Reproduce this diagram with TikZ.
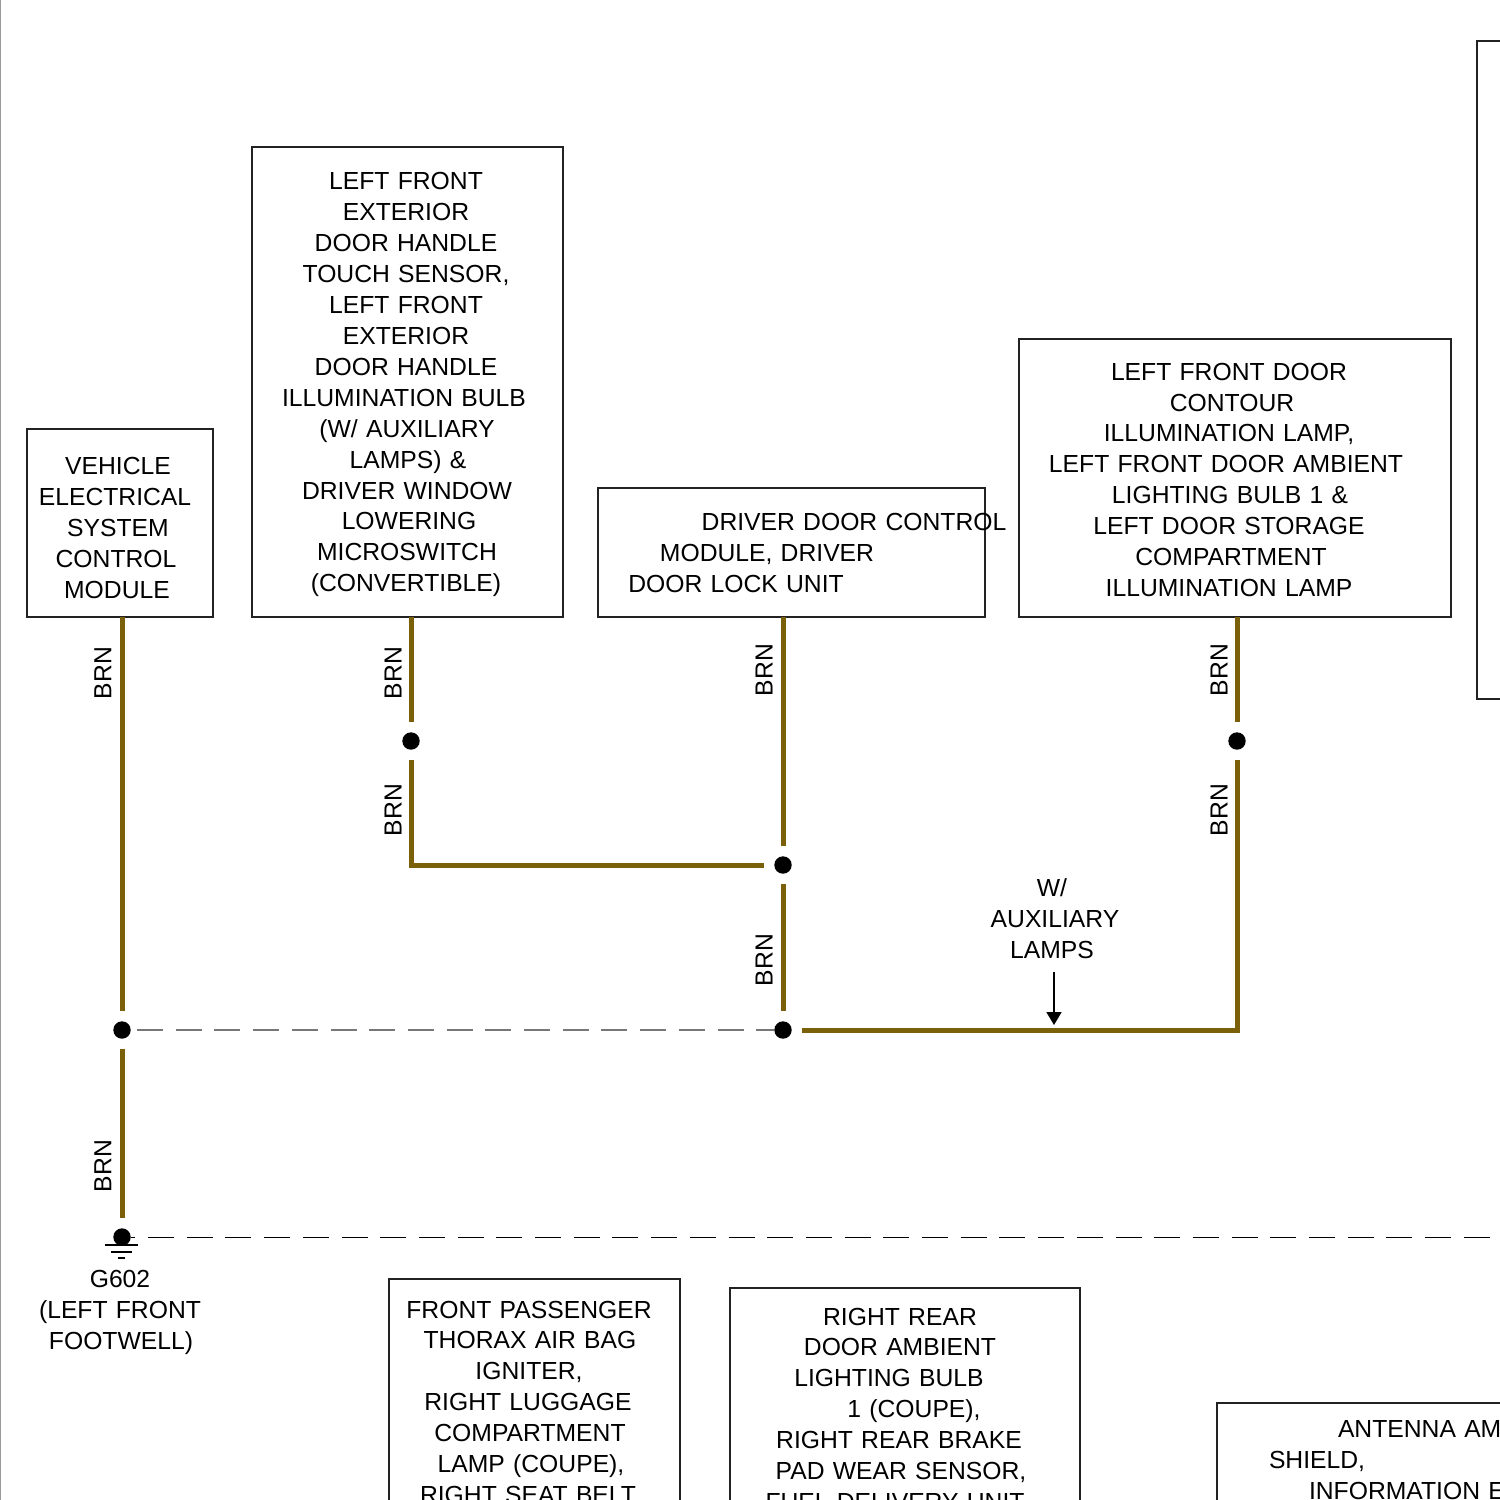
\documentclass[tikz,border=0pt]{standalone}
\usepackage{fontspec}
\setmainfont{Liberation Sans}
\usetikzlibrary{arrows.meta}
\definecolor{wirebrn}{HTML}{7A6008}
\definecolor{boxline}{HTML}{222222}
\definecolor{dashgray}{HTML}{777777}
% one text line: shift in reference pixels, then the text
\newcommand{\tl}[2]{\makebox[0pt]{\hspace*{#1pt}\smash{#2}}\rule{0pt}{8.8pt}}
\tikzset{
  x=0.5pt,y=-0.5pt,
  boxnode/.style={draw=boxline,line width=.95pt,fill=none,inner sep=0pt,outer sep=0pt,anchor=north west},
  boxtext/.style={inner sep=0pt,outer sep=0pt,align=center,text width=10pt,
    font=\fontsize{12.35}{15.46}\selectfont},
  wirelabel/.style={rotate=90,inner sep=0pt,font=\fontsize{12.35}{15.46}\selectfont},
  wire/.style={draw=wirebrn,line width=2.5pt,line join=miter},
  dotnode/.style={circle,fill=black,inner sep=0pt,outer sep=5pt,minimum size=8.7pt},
  graydash/.style={draw=dashgray,line width=.75pt,dash pattern=on 13pt off 6.35pt},
  blackdash/.style={draw=black,line width=.45pt,dash pattern=on 13pt off 6.35pt},
  groundbar/.style={draw=black,line width=.8pt},
}
\begin{document}
\begin{tikzpicture}
\useasboundingbox (0,0) rectangle (1500,1500);
\clip (0,0) rectangle (1500,1500);
\fill[white] (0,0) rectangle (1500,1500);
\draw[draw=gray!80,line width=.6pt] (0.5,0) -- (0.5,1500);

% boxes
\node[boxnode,minimum width=93pt,minimum height=94pt] (vesc) at (27,429) {};
\node[boxnode,minimum width=155.5pt,minimum height=235pt] (lfh) at (252,147) {};
\node[boxnode,minimum width=193.5pt,minimum height=64.5pt] (ddcm) at (598,488) {};
\node[boxnode,minimum width=216pt,minimum height=139pt] (lfd) at (1019,339) {};
\node[boxnode,minimum width=100pt,minimum height=329pt] (topright) at (1477,41) {};
\node[boxnode,minimum width=145.5pt,minimum height=150pt] (fpt) at (389,1279) {};
\node[boxnode,minimum width=175pt,minimum height=150pt] (rrd) at (730,1288) {};
\node[boxnode,minimum width=200pt,minimum height=100pt] (ant) at (1217,1403) {};

% box texts
\node[boxtext] (vesct) at (117,527.5) {\tl{1}{VEHICLE}\\\tl{-2}{ELECTRICAL}\\\tl{1}{SYSTEM}\\\tl{-1}{CONTROL}\\\tl{0}{MODULE}};
\node[boxtext] (lfht) at (406,382) {\tl{0}{LEFT FRONT}\\\tl{0}{EXTERIOR}\\\tl{0}{DOOR HANDLE}\\\tl{0}{TOUCH SENSOR,}\\\tl{0}{LEFT FRONT}\\\tl{0}{EXTERIOR}\\\tl{0}{DOOR HANDLE}\\\tl{-2}{ILLUMINATION BULB}\\\tl{1}{(W/ AUXILIARY}\\\tl{2}{LAMPS) \&}\\\tl{1}{DRIVER WINDOW}\\\tl{3}{LOWERING}\\\tl{1}{MICROSWITCH}\\\tl{0}{(CONVERTIBLE)}};
\node[boxtext] (ddcmt) at (790,553) {\tl{64}{DRIVER DOOR CONTROL}\\\tl{-23}{MODULE, DRIVER}\\\tl{-54}{DOOR LOCK UNIT}};
\node[boxtext] (lfdt) at (1229,479.5) {\tl{0}{LEFT FRONT DOOR}\\\tl{3}{CONTOUR}\\\tl{0}{ILLUMINATION LAMP,}\\\tl{-3}{LEFT FRONT DOOR AMBIENT}\\\tl{1}{LIGHTING BULB 1 \&}\\\tl{0}{LEFT DOOR STORAGE}\\\tl{2}{COMPARTMENT}\\\tl{0}{ILLUMINATION LAMP}};
\node[boxtext] (fptt) at (529,1402) {\tl{0}{FRONT PASSENGER}\\\tl{1}{THORAX AIR BAG}\\\tl{0}{IGNITER,}\\\tl{-1}{RIGHT LUGGAGE}\\\tl{1}{COMPARTMENT}\\\tl{2}{LAMP (COUPE),}\\\tl{-1}{RIGHT SEAT BELT}};
\node[boxtext] (rrdt) at (900,1409) {\tl{0}{RIGHT REAR}\\\tl{0}{DOOR AMBIENT}\\\tl{-11}{LIGHTING BULB}\\\tl{14}{1 (COUPE),}\\\tl{-1}{RIGHT REAR BRAKE}\\\tl{1}{PAD WEAR SENSOR,}\\\tl{-5}{FUEL DELIVERY UNIT}};
\node[boxtext,align=left,anchor=west] (antt) at (1338,1460) {\makebox[0pt][l]{\smash{ANTENNA AM}}\rule{0pt}{8.8pt}\\\makebox[0pt][l]{\hspace*{-34.5pt}\smash{SHIELD,}}\rule{0pt}{8.8pt}\\\makebox[0pt][l]{\hspace*{-14.5pt}\smash{INFORMATION E}}\rule{0pt}{8.8pt}};

% junction dots
\node[dotnode] (d1) at (122,1030) {};
\node[dotnode] (d2) at (411,741) {};
\node[dotnode] (d3) at (783,865) {};
\node[dotnode] (d4) at (783,1030) {};
\node[dotnode] (d5) at (1237,741) {};
\node[dotnode] (g) at (122,1237) {};
\coordinate (rightend) at (1500,1237);

% wires
\draw[wire] (vesc.south -| d1) -- (d1);
\draw[wire] (d1) -- (g);
\draw[wire] (lfh.south -| d2) -- (d2);
\draw[wire] (d2) -- (d2 |- d3) -- (d3);
\draw[wire] (ddcm.south -| d3) -- (d3);
\draw[wire] (d3) -- (d4);
\draw[wire] (d4) -- (d4 -| d5) -- (d5);
\draw[wire] (lfd.south -| d5) -- (d5);

% dashed lines
\draw[graydash,shorten <=7.5pt,shorten >=4.3pt] (d1.center) -- (d4.center);
\draw[blackdash,dash phase=10.85pt,shorten <=4.5pt] (g.center) -- (rightend);

% ground
\draw[groundbar] (105,1245) -- (138,1245);
\draw[groundbar] (111,1252) -- (132,1252);
\draw[groundbar] (118,1258) -- (125,1258);
\node[boxtext] (gl) at (120,1310) {\tl{0}{G602}\\\tl{0}{(LEFT FRONT}\\\tl{1}{FOOTWELL)}};

% wire labels
\node[wirelabel] (b1) at (103,673) {BRN};
\node[wirelabel] (b2) at (393,673) {BRN};
\node[wirelabel] (b3) at (393,810) {BRN};
\node[wirelabel] (b4) at (764,670) {BRN};
\node[wirelabel] (b5) at (764,960) {BRN};
\node[wirelabel] (b6) at (1219,670) {BRN};
\node[wirelabel] (b7) at (1219,810) {BRN};
\node[wirelabel] (b8) at (103,1166) {BRN};

% note with arrow
\node[boxtext,inner ysep=6.5pt] (note) at (1053,919) {\tl{-1}{W/}\\\tl{2}{AUXILIARY}\\\tl{-1}{LAMPS}};
\coordinate (arrowtip) at (1054,1025);
\draw[line width=.8pt,-{Triangle[width=7.5pt,length=6.5pt]}] (note.south -| arrowtip) -- (arrowtip);
\end{tikzpicture}
\end{document}
